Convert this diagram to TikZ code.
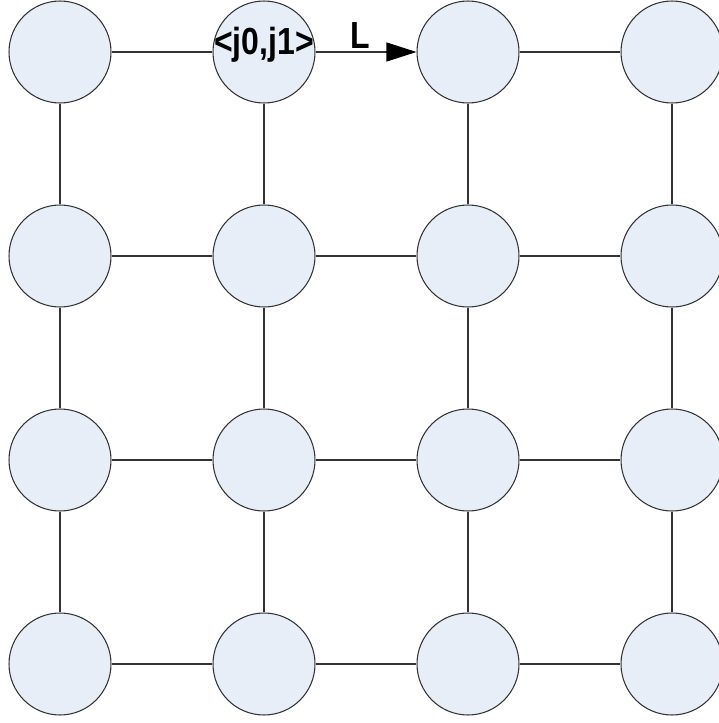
\documentclass[tikz,border=0pt]{standalone}
\usepackage{fontspec}
\setmainfont{Liberation Sans}
\usetikzlibrary{arrows.meta}
\definecolor{gdfill}{HTML}{E8EEF8}
\definecolor{gdline}{HTML}{333333}
\newcommand\gdfont{\fontsize{18.2pt}{20pt}\selectfont\bfseries}
\newcommand\gdtext[1]{\scalebox{1}[1.18]{#1}}

\begin{document}
\begin{tikzpicture}[x=0.02cm,y=-0.02cm,>={Triangle[length=0.6cm,width=0.38cm]},
    gridnode/.style={circle,draw=gdline,fill=gdfill,line width=0.6pt,minimum size=2.04cm,inner sep=0pt},
    gridedge/.style={gdline,line width=0.6pt}]
  \useasboundingbox (0,0) rectangle (718,723);
  \foreach \r in {1,...,4}{
    \foreach \c in {1,...,4}{
      \node[gridnode] (n\r\c) at ({60+204*(\c-1)},{52+204*(\r-1)}) {};
    }
  }
  % columns
  \foreach \a/\b in {1/2,2/3,3/4}{
    \foreach \c in {1,...,4}
      \draw[gridedge] (n\a\c) -- (n\b\c);
  }
  % rows
  \foreach \a/\b in {1/2,2/3,3/4}{
    \foreach \r in {2,3,4}
      \draw[gridedge] (n\r\a) -- (n\r\b);
  }
  \draw[gridedge] (n11) -- (n12);
  \draw[gridedge] (n13) -- (n14);
  \draw[gridedge,->,-{Triangle[length=0.6cm,width=0.38cm,black]}] (n12) -- node[above,inner sep=0.05cm,xshift=-0.12cm,font=\gdfont,text=black] {\gdtext{L}} (n13);
  \node[font=\gdfont,text=black,anchor=base,inner sep=0pt] (lab) at ([yshift=-0.06cm]n12.center) {\gdtext{<j0,j1>}};
\end{tikzpicture}
\end{document}
